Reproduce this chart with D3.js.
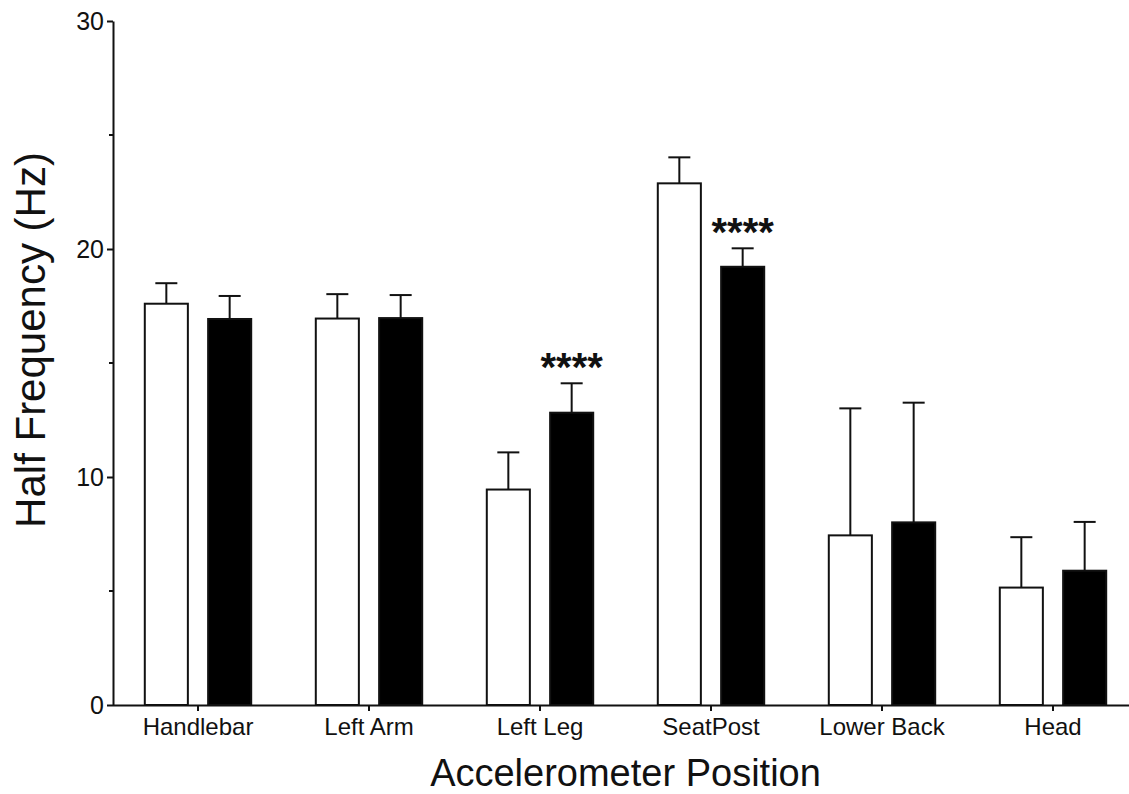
<!DOCTYPE html>
<html>
<head>
<meta charset="utf-8">
<script src="https://cdn.jsdelivr.net/npm/d3@7"></script>
<style>
  html, body { margin: 0; padding: 0; background: #fff; }
  svg { display: block; font-family: "Liberation Sans", Arial, sans-serif; }
</style>
</head>
<body>
<div id="chart"></div>
<script>
const categories = ["Handlebar", "Left Arm", "Left Leg", "SeatPost", "Lower Back", "Head"];
const groups = ["open", "filled"];
const openMeans = [17.6, 16.95, 9.45, 22.88, 7.44, 5.15];
const openErrors = [0.9, 1.07, 1.63, 1.14, 5.57, 2.21];
const filledMeans = [16.93, 16.97, 12.82, 19.22, 8.01, 5.89];
const filledErrors = [1.01, 1.01, 1.29, 0.81, 5.25, 2.14];
const sigMarks = ["", "", "****", "****", "", ""];
const yTicks = [0, 10, 20, 30];
const yMinorTicks = [5, 15, 25];

const width = 1129, height = 794;
const margin = { top: 21, left: 113, bottom: 89 };

const data = categories.map((c, i) => ({
  cat: c,
  values: [
    { key: "open", mean: openMeans[i], err: openErrors[i] },
    { key: "filled", mean: filledMeans[i], err: filledErrors[i] }
  ],
  sig: sigMarks[i]
}));

const svg = d3.select("#chart")
  .append("svg")
  .attr("width", width)
  .attr("height", height);

// x scales: outer for categories, inner for the two bars
const x0 = d3.scaleBand()
  .domain(categories)
  .range([112.5, 112.5 + 171 * categories.length]);

const x1 = d3.scaleBand()
  .domain(groups)
  .range([0, x0.bandwidth()])
  .paddingInner(0.32)
  .paddingOuter(0.51);

const y = d3.scaleLinear()
  .domain([0, 30])
  .range([height - margin.bottom - 0, margin.top]);

const fill = { open: "#fff", filled: "#000" };

const cat = svg.selectAll("g.cat")
  .data(data)
  .join("g")
  .attr("class", "cat")
  .attr("transform", d => `translate(${x0(d.cat)},0)`);

// error bars (drawn first, bars cover the lower part)
cat.selectAll("g.err")
  .data(d => d.values)
  .join("g")
  .attr("class", "err")
  .each(function (d) {
    const cx = x1(d.key) + x1.bandwidth() / 2;
    const g = d3.select(this);
    g.append("line")
      .attr("x1", cx).attr("x2", cx)
      .attr("y1", y(d.mean)).attr("y2", y(d.mean + d.err))
      .attr("stroke", "#111").attr("stroke-width", 2);
    g.append("line")
      .attr("x1", cx - 11).attr("x2", cx + 11)
      .attr("y1", y(d.mean + d.err)).attr("y2", y(d.mean + d.err))
      .attr("stroke", "#111").attr("stroke-width", 2);
  });

cat.selectAll("rect")
  .data(d => d.values)
  .join("rect")
  .attr("x", d => x1(d.key))
  .attr("y", d => y(d.mean))
  .attr("width", x1.bandwidth())
  .attr("height", d => y(0) - y(d.mean))
  .attr("fill", d => fill[d.key])
  .attr("stroke", "#111")
  .attr("stroke-width", 2);

// significance stars above the filled bars
cat.filter(d => d.sig)
  .append("text")
  .attr("x", x1("filled") + x1.bandwidth() / 2)
  .attr("y", d => y(d.values[1].mean + d.values[1].err) - 2)
  .attr("text-anchor", "middle")
  .attr("font-size", 40)
  .attr("font-weight", "bold")
  .attr("fill", "#111")
  .text(d => d.sig);

// y axis
const yAxis = svg.append("g")
  .attr("transform", `translate(${margin.left},0)`)
  .call(d3.axisLeft(y).tickValues(yTicks).tickSize(6).tickSizeOuter(0).tickPadding(3));
yAxis.select(".domain").attr("stroke", "#111").attr("stroke-width", 2);
yAxis.selectAll(".tick line").attr("stroke", "#111").attr("stroke-width", 2);
yAxis.selectAll(".tick text")
  .attr("font-size", 25)
  .attr("font-family", "Liberation Sans, Arial, sans-serif")
  .attr("fill", "#111");

svg.append("g")
  .attr("transform", `translate(${margin.left},0)`)
  .selectAll("line")
  .data(yMinorTicks)
  .join("line")
  .attr("x1", -4).attr("x2", 0)
  .attr("y1", d => y(d)).attr("y2", d => y(d))
  .attr("stroke", "#111").attr("stroke-width", 2);

// x axis
const xAxis = svg.append("g")
  .attr("transform", `translate(0,${y(0)})`)
  .call(d3.axisBottom(x0).tickSize(6).tickSizeOuter(0));
xAxis.select(".domain").attr("stroke", "#111").attr("stroke-width", 2);
xAxis.selectAll(".tick line").attr("stroke", "#111").attr("stroke-width", 2);
xAxis.selectAll(".tick text")
  .attr("y", 30)
  .attr("dy", 0)
  .attr("font-size", 24)
  .attr("font-family", "Liberation Sans, Arial, sans-serif")
  .attr("fill", "#111");

// axis titles
svg.append("text")
  .attr("x", (x0.range()[0] + x0.range()[1]) / 2)
  .attr("y", 786)
  .attr("text-anchor", "middle")
  .attr("font-size", 38)
  .attr("fill", "#111")
  .text("Accelerometer Position");

svg.append("text")
  .attr("transform", "translate(45,340) rotate(-90)")
  .attr("text-anchor", "middle")
  .attr("font-size", 42)
  .attr("fill", "#111")
  .text("Half Frequency (Hz)");
</script>
</body>
</html>
